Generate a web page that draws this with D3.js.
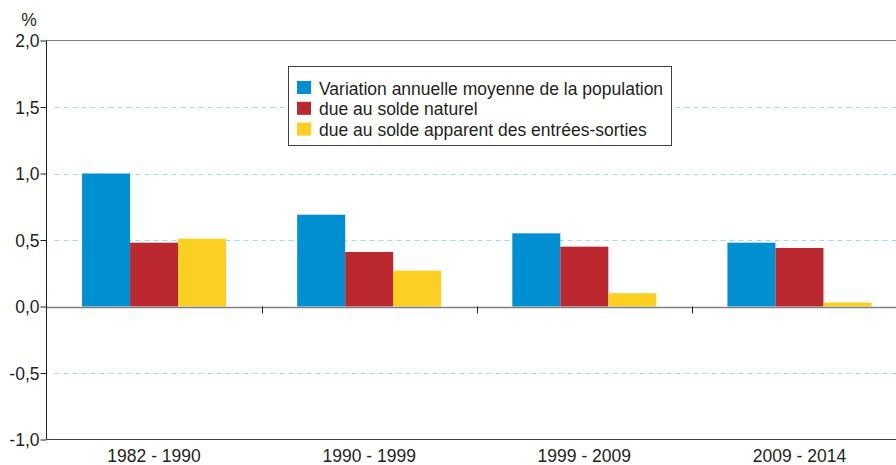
<!DOCTYPE html>
<html><head><meta charset="utf-8">
<script src="https://cdn.jsdelivr.net/npm/d3@7"></script>
<style>body{margin:0;background:#fff}svg{display:block}text{font-family:"Liberation Sans",Arial,sans-serif;fill:#231f20}</style>
</head><body><svg id="c" width="896" height="465"></svg>
<script>
const categories = ["1982 - 1990","1990 - 1999","1999 - 2009","2009 - 2014"];
const seriesNames = ["Variation annuelle moyenne de la population","due au solde naturel","due au solde apparent des entrées-sorties"];
const variation = [1.00, 0.69, 0.55, 0.48];
const naturel = [0.48, 0.41, 0.45, 0.44];
const migratoire = [0.51, 0.27, 0.10, 0.03];
const yTicks = [-1.0,-0.5,0.0,0.5,1.0,1.5,2.0];
const colors = ["#008fd0","#bb2830","#fbd022"];
const series = [variation, naturel, migratoire];

(function(){
const svg = d3.select("#c");
const FS = 17.5;
const pl = 46.5, pr = 907, pt = 40.5, pb = 439.5;
const y = d3.scaleLinear().domain([-1,2]).range([pb, pt]);
const x = d3.scaleBand().domain(categories).range([pl, pr]);
const groupW = 144;
const xs = d3.scaleBand().domain(d3.range(3)).range([(x.bandwidth()-groupW)/2, (x.bandwidth()+groupW)/2]);

// grid
svg.append("g").selectAll("line").data(yTicks.filter(d=>d!==0 && d!==2 && d!==-1)).join("line")
  .attr("x1", pl+8).attr("x2", 896).attr("y1", d=>Math.round(y(d))+0.5).attr("y2", d=>Math.round(y(d))+0.5)
  .attr("stroke","#9ddcf0").attr("stroke-width",1.2).attr("stroke-dasharray","5,4");

// bars
const g = svg.append("g");
series.forEach((s,i)=>{
  g.selectAll(null).data(s).join("rect")
   .attr("x",(d,j)=>x(categories[j])+xs(i))
   .attr("width",xs.bandwidth())
   .attr("y",d=>y(Math.max(0,d)))
   .attr("height",d=>Math.abs(y(d)-y(0)))
   .attr("fill",colors[i]);
});

// top line and zero line
svg.append("line").attr("x1",pl).attr("x2",896).attr("y1",pt).attr("y2",pt).attr("stroke","#808080").attr("stroke-width",1.2);
svg.append("line").attr("x1",pl).attr("x2",896).attr("y1",Math.round(y(0))+0.5).attr("y2",Math.round(y(0))+0.5).attr("stroke","#808080").attr("stroke-width",1.5);
svg.append("g").selectAll("line").data(categories.slice(1)).join("line")
  .attr("x1",d=>Math.round(x(d))+0.5).attr("x2",d=>Math.round(x(d))+0.5)
  .attr("y1",y(0)).attr("y2",y(0)+7).attr("stroke","#231f20");

// bottom axis
svg.append("line").attr("x1",pl).attr("x2",896).attr("y1",pb).attr("y2",pb).attr("stroke","#404040").attr("stroke-width",1.2);
svg.append("g").selectAll("text").data(categories).join("text")
  .attr("x",d=>x(d)+x.bandwidth()/2).attr("y",462).attr("text-anchor","middle").attr("font-size",FS).text(d=>d);

// y axis
const ya = svg.append("g").attr("transform",`translate(${pl},0)`).call(d3.axisLeft(y).tickValues(yTicks).tickSize(6).tickFormat(d=>d3.format(".1f")(d).replace(".",",").replace("−","-")));
ya.select(".domain").attr("stroke","#231f20").attr("d",`M0,${pt}V${pb}`);
ya.selectAll(".tick line").attr("stroke","#231f20");
ya.selectAll(".tick text").attr("font-size",FS).attr("x",-7).attr("dy","0.36em").attr("fill","#231f20").attr("font-family","Liberation Sans, Arial, sans-serif");
svg.append("text").attr("x",29).attr("y",26).attr("text-anchor","middle").attr("font-size",FS).text("%");

// legend
const lg = svg.append("g");
lg.append("rect").attr("x",288.5).attr("y",66.5).attr("width",383).attr("height",79).attr("fill","#fff").attr("stroke","#404040");
seriesNames.forEach((n,i)=>{
  lg.append("rect").attr("x",297).attr("y",81+i*20.8).attr("width",14).attr("height",13).attr("fill",colors[i]);
  lg.append("text").attr("x",319).attr("y",94.5+i*20.5).attr("font-size",FS).text(n);
});
})();
</script></body></html>
